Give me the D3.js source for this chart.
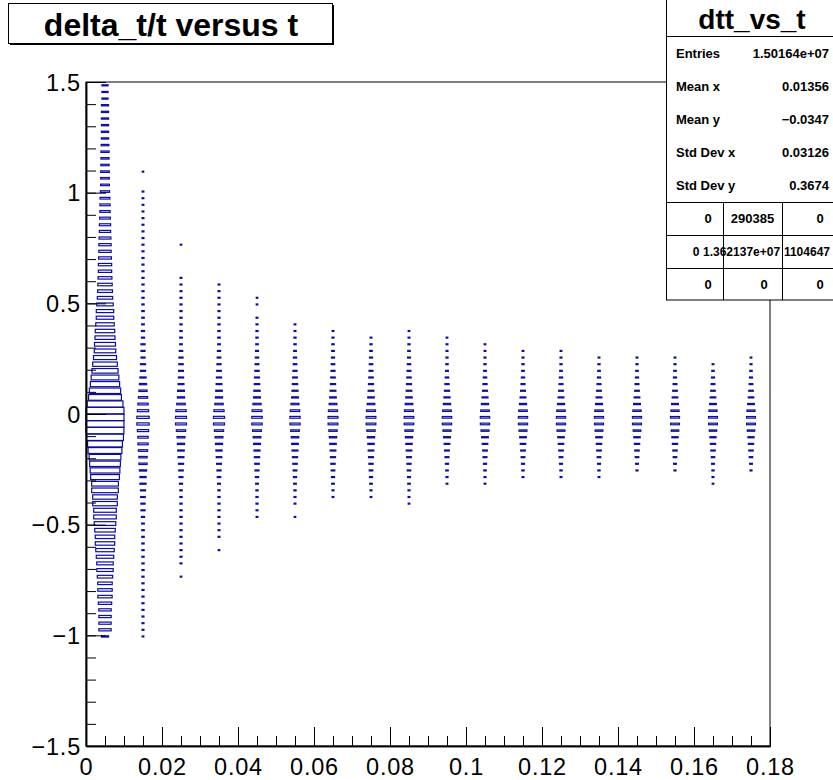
<!DOCTYPE html>
<html>
<head>
<meta charset="utf-8">
<script src="https://cdn.jsdelivr.net/npm/d3@7"></script>
<style>
body { margin: 0; background: #fff; }
text { font-family: "Liberation Sans", Arial, Helvetica, sans-serif; }
</style>
</head>
<body>
<svg id="chart" width="833" height="780"></svg>
<script>
// histogram title and stats box
const histTitle = "delta_t/t versus t";
const statsName = "dtt_vs_t";
const statLabels = ["Entries", "Mean x", "Mean y", "Std Dev x", "Std Dev y"];
const statValues = ["1.50164e+07", "0.01356", "\u22120.0347", "0.03126", "0.3674"];
const flowTable = [["0", "290385", "0"], ["0", "1.362137e+07", "1104647"], ["0", "0", "0"]];

// tick labels
const xTicks = [0, 0.02, 0.04, 0.06, 0.08, 0.1, 0.12, 0.14, 0.16, 0.18];
const yTicks = [-1.5, -1, -0.5, 0, 0.5, 1, 1.5];

// binning: 18 bins in t (0.01 wide), 100 bins in delta_t/t (0.03 wide, from -1.5)
const xCenters = [0.005, 0.015, 0.025, 0.035, 0.045, 0.055, 0.065, 0.075, 0.085,
                  0.095, 0.105, 0.115, 0.125, 0.135, 0.145, 0.155, 0.165, 0.175];
const xBinWidth = 0.01;
const yLow = -1.5;
const yBinWidth = 0.03;

// first filled y-bin index of each t column, then bin contents going up
const binStart = [16, 16, 25, 29, 34, 34, 37, 37, 36, 39, 39, 40, 40, 40, 41, 41, 39, 41];

const col01 = [22050, 64800, 64300, 65100, 66200, 76050, 87600, 88900, 89400, 101250,
  114800, 116300, 130050, 145800, 161900, 163200, 180000, 198450, 216900, 219100,
  258400, 261000, 303500, 305800, 352800, 378450, 405000, 432450, 490050, 520200,
  583200, 612400, 616050, 618300, 614700, 551250, 460800, 418600, 365500, 328050,
  292600, 259200, 227800, 198450, 189100, 171100, 162450, 145800, 131000, 129400,
  115200, 101250, 94600, 88200, 82000, 76500, 75600, 70300, 64800, 64500,
  59500, 54900, 54100, 49600, 45300, 44700, 40600, 36450, 32800, 32400,
  32200, 28900, 28700, 28600, 25300, 22400, 22100, 21900, 22000, 21800,
  21700, 16400, 16200, 16000];
const col02 = [1200, 1500, 1600, 1600, 1700, 1700, 1800, 1800, 1800, 1900,
  1900, 2000, 2000, 2100, 2200, 2600, 2800, 3000, 4050, 7200,
  7300, 9100, 11250, 16200, 16500, 22050, 28800, 29100, 36450, 45000,
  45600, 54450, 64800, 65300, 54450, 45000, 36450, 28800, 22050, 16200,
  11250, 11000, 7200, 7100, 7000, 4050, 4000, 2800, 2700, 2600,
  2100, 2000, 1900, 1900, 1800, 1800, 1700, 1700, 1600, 1600,
  1500, 1500, 1400, 1400, 1300, 1300, 1200, 1200, 0, 0, 900];
const col03 = [900, 0, 1500, 1600, 1700, 1800, 1800, 1900, 1900, 2000,
  2000, 2100, 2200, 2400, 4050, 6160, 8320, 11250, 14620, 17860,
  22050, 26680, 36450, 51520, 51800, 45000, 31000, 22050, 20200, 14620,
  11250, 9940, 8320, 7200, 4900, 2800, 2700, 2200, 2000, 1900,
  1800, 1700, 1600, 1500, 1400, 1300, 0, 0, 0, 0, 800];
const col04 = [900, 0, 1400, 1500, 1600, 1700, 1800, 1900, 2000, 2200,
  3600, 5200, 7200, 9900, 13000, 16500, 21000, 26000, 36000, 52000,
  53000, 44000, 30000, 22000, 18500, 14000, 11000, 9000, 7200, 5600,
  4200, 2800, 2500, 2200, 2000, 1800, 1700, 1600, 1500, 1400, 1300];
const col05 = [1300, 1500, 1700, 1900, 2100, 3200, 4600, 6500, 8900, 12000,
  15500, 20000, 25000, 33000, 46000, 47000, 40000, 28000, 20000, 16500,
  12500, 9800, 7800, 6000, 4600, 3400, 2500, 2100, 1800, 1600, 1400, 0, 1000, 900];
const col06 = [900, 0, 1300, 1600, 2000, 3000, 4300, 6000, 8400, 11500,
  15000, 19000, 24000, 32000, 44000, 45000, 38000, 27000, 19500, 15500,
  12000, 9300, 7300, 5600, 4200, 3100, 2300, 1900, 1500, 1200];
const col07 = [1300, 1700, 2800, 4000, 5600, 7800, 10800, 14000, 18000, 23000,
  30000, 41000, 42000, 36000, 25500, 18500, 14500, 11200, 8700, 6800,
  5200, 3900, 2900, 2100, 1600, 1200];
const col08 = [1200, 1600, 2700, 3900, 5400, 7500, 10400, 13500, 17500, 22500,
  29500, 40000, 41000, 35000, 25000, 18000, 14000, 10800, 8400, 6500,
  5000, 3700, 2700, 1900, 1300];
const col09 = [1000, 1300, 1700, 2600, 3800, 5200, 7300, 10100, 13200, 17000,
  22000, 29000, 39000, 40000, 34000, 24500, 17500, 13500, 10500, 8200,
  6300, 4800, 3600, 2600, 1900, 1400, 1000];
const col10 = [1200, 1700, 2600, 4200, 6500, 9500, 13500, 19500, 27500, 37000,
  38000, 31500, 22500, 15500, 11000, 7500, 5000, 3300, 2300, 1800, 1500, 1300, 1100];
const col11 = [1200, 1600, 2400, 4000, 6300, 9200, 13200, 19000, 27000, 36500,
  37500, 31000, 22000, 15000, 10600, 7200, 4800, 3100, 2100, 1600, 1300, 1100];
const col12 = [1400, 2200, 3800, 6000, 9000, 13000, 18500, 26500, 36000, 37000,
  30500, 21500, 14500, 10000, 6800, 4500, 3000, 2100, 1600, 1200];
const col13 = [1400, 2100, 3700, 5800, 8800, 12700, 18000, 26000, 35500, 36500,
  30000, 21000, 14200, 9800, 6600, 4400, 2900, 2000, 1500, 1200];
const col14 = [1300, 2000, 3600, 5700, 8600, 12400, 17600, 25500, 35000, 36000,
  29500, 20500, 13900, 9500, 6400, 4200, 2800, 1900, 1300];
const col15 = [1700, 3400, 5500, 8400, 12100, 17200, 25000, 34500, 35500, 29000,
  20000, 13600, 9300, 6200, 4100, 2700, 1800, 1300];
const col16 = [1700, 3300, 5400, 8200, 11900, 16900, 24500, 34000, 35000, 28500,
  19600, 13300, 9100, 6000, 4000, 2600, 1700, 1200];
const col17 = [1000, 1500, 2000, 3200, 5200, 8000, 11600, 16500, 24000, 33500,
  34500, 28000, 19200, 13000, 8900, 5800, 3800, 2400, 1300];
const col18 = [1600, 3200, 5200, 8000, 11600, 16500, 24000, 33000, 34000, 27500,
  19000, 12800, 8700, 5700, 3700, 2400, 1600, 1100];

const columns = [col01, col02, col03, col04, col05, col06, col07, col08, col09,
                 col10, col11, col12, col13, col14, col15, col16, col17, col18];

const svg = d3.select("#chart");
const frame = {left: 86, right: 770, top: 82, bottom: 746};

const x = d3.scaleLinear().domain([0, 0.18]).range([frame.left, frame.right]);
const y = d3.scaleLinear().domain([-1.5, 1.5]).range([frame.bottom, frame.top]);

// flatten into cells
const cells = [];
columns.forEach((col, j) => {
  col.forEach((count, k) => {
    if (count > 0) {
      const bin = binStart[j] + k;
      cells.push({t: xCenters[j], v: yLow + yBinWidth * (bin + 0.5), count: count});
    }
  });
});

// box side scales with sqrt of content
const ratio = d3.scaleSqrt().domain([0, d3.max(cells, d => d.count)]).range([0, 1]);
const bw = x(xBinWidth) - x(0);
const bh = y(yLow) - y(yLow + yBinWidth);

svg.append("g")
  .selectAll("rect")
  .data(cells)
  .join("rect")
  .attr("x", d => x(d.t) - Math.max(1.4, ratio(d.count) * bw) / 2)
  .attr("y", d => y(d.v) - Math.max(1, ratio(d.count) * bh) / 2)
  .attr("width", d => Math.max(1.4, ratio(d.count) * bw))
  .attr("height", d => Math.max(1, ratio(d.count) * bh))
  .attr("fill", "none")
  .attr("stroke", "#0d0d9e")
  .attr("stroke-width", 1.2);

// frame
svg.append("rect")
  .attr("x", frame.left).attr("y", frame.top)
  .attr("width", frame.right - frame.left).attr("height", frame.bottom - frame.top)
  .attr("fill", "none").attr("stroke", "#000").attr("stroke-width", 1);

// x axis: major + minor ticks pointing inward
const xAxis = svg.append("g").attr("transform", `translate(0,${frame.bottom})`);
xAxis.append("g")
  .call(d3.axisBottom(x).ticks(36).tickSize(-10).tickSizeOuter(0).tickFormat(""));
xAxis.append("g")
  .call(d3.axisBottom(x).tickValues(xTicks).tickSize(-19).tickSizeOuter(0).tickFormat(d3.format("~g")))
  .call(g => g.selectAll("text")
    .attr("y", 29).attr("dy", null)
    .attr("font-size", 23.5).attr("letter-spacing", 0.8)
    .attr("fill", "#000"));
xAxis.selectAll(".domain").attr("stroke-width", 1.5);
xAxis.selectAll("line").attr("stroke", "#000");

// y axis
const yAxis = svg.append("g").attr("transform", `translate(${frame.left},0)`);
yAxis.append("g")
  .call(d3.axisLeft(y).ticks(30).tickSize(-10).tickSizeOuter(0).tickFormat(""));
yAxis.append("g")
  .call(d3.axisLeft(y).tickValues(yTicks).tickSize(-20).tickSizeOuter(0).tickFormat(d3.format("~g")))
  .call(g => g.selectAll("text")
    .attr("x", -5).attr("dy", "0.35em")
    .attr("font-size", 23.5).attr("letter-spacing", 0.8)
    .attr("fill", "#000"));
yAxis.selectAll(".domain").attr("stroke-width", 1.5);
yAxis.selectAll("line").attr("stroke", "#000");

// title box
const tb = svg.append("g");
tb.append("rect").attr("x", 10).attr("y", 5).attr("width", 324).attr("height", 40).attr("fill", "#000");
tb.append("rect").attr("x", 8.5).attr("y", 3.5).attr("width", 324).attr("height", 40)
  .attr("fill", "#fff").attr("stroke", "#000").attr("stroke-width", 1);
tb.append("text").attr("x", 171).attr("y", 35.5)
  .attr("text-anchor", "middle").attr("font-size", 32).attr("font-weight", "bold")
  .text(histTitle);

// stats box
const sb = svg.append("g");
const sx0 = 666.5, sx1 = 845, sRows = [36, 202, 235, 268];
sb.append("rect").attr("x", sx0).attr("y", -1).attr("width", sx1 - sx0).attr("height", 301)
  .attr("fill", "#fff").attr("stroke", "#000").attr("stroke-width", 1);
sb.selectAll("line.row").data(sRows).join("line").attr("class", "row")
  .attr("x1", sx0).attr("x2", sx1).attr("y1", d => d + 0.5).attr("y2", d => d + 0.5)
  .attr("stroke", "#000");
sb.selectAll("line.col").data([723, 782]).join("line").attr("class", "col")
  .attr("x1", d => d + 0.5).attr("x2", d => d + 0.5).attr("y1", 202).attr("y2", 300)
  .attr("stroke", "#000");
sb.append("text").attr("x", 752).attr("y", 29)
  .attr("text-anchor", "middle").attr("font-size", 28).attr("font-weight", "bold")
  .text(statsName);
const statBase = [58, 91, 124, 157, 190];
sb.selectAll("text.lab").data(statLabels).join("text").attr("class", "lab")
  .attr("x", 676).attr("y", (d, i) => statBase[i])
  .attr("font-size", 13).attr("font-weight", "bold").text(d => d);
sb.selectAll("text.val").data(statValues).join("text").attr("class", "val")
  .attr("x", 829).attr("y", (d, i) => statBase[i]).attr("text-anchor", "end")
  .attr("font-size", 13).attr("font-weight", "bold").text(d => d);

// under/overflow table; the middle row is crowded, so it is set a bit smaller
const cellX = [[708, 752.5, 820], [696, 703, 830], [708, 764, 820]];
const cellAnchor = [["middle", "middle", "middle"], ["middle", "start", "end"], ["middle", "middle", "middle"]];
const cellSize = [13, 12, 13];
const cellBase = [223, 256, 289];
flowTable.forEach((row, r) => {
  row.forEach((s, c) => {
    sb.append("text").attr("x", cellX[r][c]).attr("y", cellBase[r])
      .attr("text-anchor", cellAnchor[r][c])
      .attr("font-size", cellSize[r]).attr("font-weight", "bold").text(s);
  });
});
</script>
</body>
</html>
